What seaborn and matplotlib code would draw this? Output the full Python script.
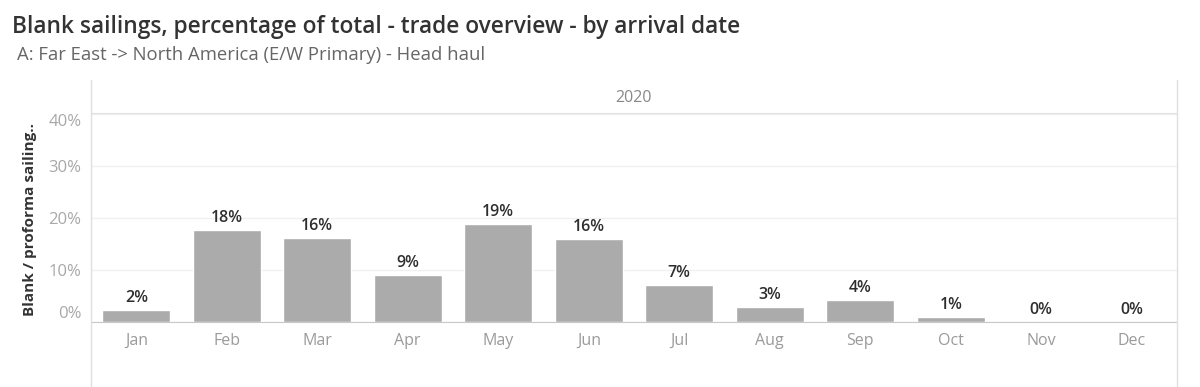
import pandas as pd
import seaborn as sns
import matplotlib.pyplot as plt
from matplotlib.lines import Line2D

# Data
months = ['Jan', 'Feb', 'Mar', 'Apr', 'May', 'Jun', 'Jul', 'Aug', 'Sep', 'Oct', 'Nov', 'Dec']
blank_pct = [0.023, 0.176, 0.162, 0.090, 0.188, 0.160, 0.071, 0.029, 0.042, 0.009, 0.0, 0.0]
ytick_vals = [0.0, 0.1, 0.2, 0.3, 0.4]
ytick_labels = ['0%', '10%', '20%', '30%', '40%']

df = pd.DataFrame({'month': months, 'pct': blank_pct})

sns.set_style('white')
plt.rcParams['font.family'] = ['Open Sans', 'DejaVu Sans']

fig = plt.figure(figsize=(12, 3.87), dpi=100)
ax = fig.add_axes([91 / 1200, 65 / 387, 1086 / 1200, 209 / 387])

sns.barplot(data=df, x='month', y='pct', color='#ababab', width=0.75,
            saturation=1, ax=ax)

# value labels on top of bars
for bars in ax.containers:
    ax.bar_label(bars, labels=[f'{v * 100:.0f}%' for v in blank_pct],
                 padding=3, fontsize=11.5, color='#2e2e2e', fontweight='semibold')

ax.set_xlim(-0.5, 11.5)
ax.set_ylim(0, 0.402)
ax.set_yticks(ytick_vals)
ax.set_yticklabels(ytick_labels)
ax.tick_params(axis='y', length=0, pad=7, labelsize=12, labelcolor='#a8a8a8')
ax.tick_params(axis='x', length=0, pad=8, labelsize=11.5, labelcolor='#9a9a9a')
ylabs = ax.get_yticklabels()
ylabs[0].set_va('bottom')
ylabs[-1].set_va('top')

ax.grid(axis='y', color='#f0f0f0', linewidth=1)
ax.set_axisbelow(True)
for side in ['left', 'right']:
    ax.spines[side].set_visible(False)
ax.spines['bottom'].set_color('#c8c8c8')
ax.spines['top'].set_color('#e2e2e2')
ax.set_xlabel('')
ax.set_ylabel('Blank / proforma sailing..', fontsize=11, fontweight='bold',
              color='#333333')
ax.yaxis.set_label_coords(-0.050, 0.49)

# panel frame lines and header
for xp in [91 / 1200, 1177 / 1200]:
    fig.add_artist(Line2D([xp, xp], [0, 307 / 387], color='#e0e0e0', linewidth=1))
fig.text(634 / 1200, 1 - 98 / 387, '2020', ha='center', va='center',
         fontsize=11.5, color='#888888')

# titles
fig.text(12 / 1200, 1 - 27 / 387, 'Blank sailings, percentage of total - trade overview - by arrival date',
         ha='left', va='center', fontsize=16.4, color='#333333', fontweight='semibold')
fig.text(17 / 1200, 1 - 55 / 387, 'A: Far East -> North America (E/W Primary) - Head haul',
         ha='left', va='center', fontsize=13.3, color='#666666')

fig.savefig('out.png', dpi=100, facecolor='white')
